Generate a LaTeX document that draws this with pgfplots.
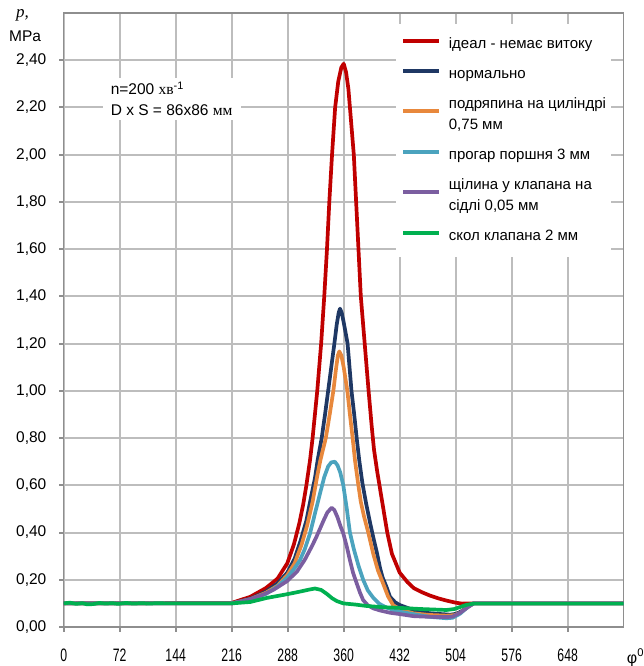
\documentclass[border=0pt]{standalone}
\usepackage{fontspec}
\setmainfont{Liberation Sans}
\newfontfamily\regfont{Liberation Sans}
\newfontfamily\serifcyr{Liberation Serif}
\newfontfamily\narrowfont[FakeStretch=0.68]{Liberation Sans}
\usepackage{pgfplots}
\pgfplotsset{compat=1.18}
\definecolor{cred}{HTML}{C00000}
\definecolor{cnavy}{HTML}{1F3864}
\definecolor{corange}{HTML}{E8883C}
\definecolor{ccyan}{HTML}{4BA3BE}
\definecolor{cpurple}{HTML}{7B5EA0}
\definecolor{cgreen}{HTML}{00B050}
\definecolor{cgrid}{HTML}{BDBDBD}
\definecolor{caxis}{HTML}{8E8E8E}
\newcommand\st{\rule[-6.3bp]{0pt}{21bp}}
\newcommand\lgtab[1]{\begin{tabular}{@{}l@{}}#1\end{tabular}}
\begin{document}
\begin{tikzpicture}
\begin{axis}[
  at={(0,0)}, anchor=south west,
  scale only axis, width=560bp, height=614bp,
  xmin=0, xmax=720, ymin=0, ymax=2.6,
  xtick={0,72,144,216,288,360,432,504,576,648},
  ytick={0,0.2,0.4,0.6,0.8,1.0,1.2,1.4,1.6,1.8,2.0,2.2,2.4},
  grid=major,
  grid style={draw=cgrid, line width=2bp},
  axis line style={draw=caxis, line width=1.5bp},
  tick style={draw=caxis, line width=2bp},
  tick align=outside,
  xtick pos=left, ytick pos=left,
  major tick length=4.5bp,
  yticklabel={\regfont\fontsize{15.5bp}{18bp}\selectfont\pgfmathprintnumber[fixed,fixed zerofill,precision=2,use comma,assume math mode=true]{\tick}},
  xticklabel={\narrowfont\fontsize{18bp}{20bp}\selectfont\pgfmathprintnumber[assume math mode=true]{\tick}},
  yticklabel style={anchor=east, inner sep=0pt, xshift=-12.7bp},
  xticklabel style={anchor=base, inner sep=0pt, yshift=-30bp},
  legend cell align=left,
  legend style={at={(0.5934,0.9821)}, anchor=north west,
    draw=none, fill=white, font=\fontsize{15bp}{21bp}\selectfont,
    row sep=9bp, inner xsep=5bp, inner ysep=10bp, nodes={inner sep=0pt, text depth=},
    /tikz/column sep=8bp},
  legend image code/.code={\draw[#1] (0bp,4bp) -- (36bp,4bp);},
  every axis plot/.append style={line width=3.7bp, line join=round},
]
\addplot[color=cred] coordinates {
(0,0.100)(216,0.102)(240,0.128)(260,0.165)(275,0.205)(287.5,0.27)(296,0.35)(303,0.44)(308,0.52)(312,0.60)(316.7,0.706)(320,0.80)(326,1.00)(331,1.20)(335,1.40)(338.5,1.60)(341.5,1.80)(345,2.00)(349,2.20)(353,2.31)(357,2.37)(360,2.385)(363,2.35)(366,2.28)(368,2.20)(373,2.00)(376,1.80)(379,1.60)(382,1.40)(387,1.20)(392,1.00)(396,0.85)(399,0.75)(403,0.66)(407,0.58)(411,0.50)(416,0.40)(422,0.31)(432,0.23)(442,0.19)(450,0.165)(460,0.148)(471,0.133)(482,0.121)(492,0.112)(504,0.103)(512,0.099)(520,0.10)(720,0.10)};
\addlegendentry{\lgtab{\st ідеал - немає витоку}}
\addplot[color=cnavy] coordinates {
(0,0.10)(216,0.10)(240,0.12)(260,0.15)(275,0.185)(287.5,0.23)(297,0.29)(305,0.37)(312,0.45)(318,0.55)(323,0.63)(326.5,0.706)(331.7,0.80)(336,0.90)(340,1.00)(344,1.10)(348,1.20)(351,1.28)(353.5,1.33)(355.3,1.348)(357.5,1.33)(360,1.29)(365,1.20)(370,1.00)(373.5,0.90)(376.7,0.80)(380,0.706)(384,0.61)(389,0.52)(394,0.44)(398,0.38)(403,0.31)(406.7,0.25)(410,0.21)(415,0.17)(419.5,0.128)(426,0.105)(432,0.093)(449.5,0.072)(471,0.058)(497,0.052)(505,0.056)(512,0.068)(519,0.085)(527,0.10)(720,0.10)};
\addlegendentry{\lgtab{\st нормально}}
\addplot[color=corange] coordinates {
(0,0.10)(216,0.10)(240,0.118)(260,0.145)(275,0.175)(287.5,0.22)(297,0.27)(306,0.35)(313,0.43)(320,0.53)(326,0.64)(330,0.706)(337,0.80)(342,0.90)(346.7,1.00)(350,1.09)(352.5,1.15)(354.4,1.167)(357,1.15)(360,1.10)(364.7,1.00)(368,0.90)(371.5,0.80)(374.5,0.706)(378,0.62)(382,0.53)(386,0.47)(391.6,0.40)(398,0.31)(404,0.24)(410,0.19)(417,0.13)(424,0.09)(435,0.072)(449.5,0.058)(470,0.051)(492,0.048)(502,0.05)(510,0.06)(518,0.082)(527,0.10)(720,0.10)};
\addlegendentry{\lgtab{\st подряпина на циліндрі\\\st 0,75 мм}}
\addplot[color=ccyan] coordinates {
(0,0.10)(216,0.10)(240,0.115)(260,0.14)(275,0.172)(287.5,0.21)(296,0.245)(303.8,0.283)(310,0.33)(316.7,0.396)(323,0.48)(329.5,0.565)(335,0.635)(340,0.68)(344,0.697)(348.5,0.70)(352,0.685)(355.5,0.655)(359.5,0.60)(364,0.50)(368,0.40)(373,0.33)(379,0.26)(385,0.20)(391,0.155)(398,0.124)(406,0.098)(415,0.082)(430,0.066)(454,0.052)(471,0.043)(492,0.037)(500,0.039)(509.5,0.056)(520,0.086)(527,0.10)(720,0.10)};
\addlegendentry{\lgtab{\st прогар поршня 3 мм}}
\addplot[color=cpurple] coordinates {
(0,0.10)(216,0.10)(227,0.108)(240,0.118)(257,0.138)(270,0.158)(287.5,0.195)(300,0.235)(310,0.285)(318,0.335)(324,0.375)(328.7,0.41)(334,0.45)(339,0.485)(344.5,0.505)(348,0.495)(352,0.465)(355.5,0.43)(359.5,0.396)(364,0.34)(368,0.283)(372,0.23)(376.7,0.185)(381,0.145)(385,0.114)(391,0.092)(398,0.079)(406.7,0.07)(420,0.06)(431.5,0.055)(449.5,0.046)(470,0.043)(492,0.042)(500,0.044)(509.5,0.06)(518,0.08)(527,0.10)(720,0.10)};
\addlegendentry{\lgtab{\st щілина у клапана на\\\st сідлі 0,05 мм}}
\addplot[color=cgreen] coordinates {
(0,0.100)(8,0.103)(16,0.098)(24,0.101)(30,0.096)(38,0.097)(46,0.102)(54,0.099)(62,0.101)(70,0.098)(80,0.102)(90,0.099)(100,0.101)(110,0.099)(120,0.101)(130,0.100)(216,0.100)(240,0.106)(261,0.123)(287.5,0.139)(304,0.150)(315,0.158)(323,0.163)(331,0.157)(338,0.141)(345,0.122)(351,0.110)(359.5,0.100)(375,0.095)(389.5,0.089)(410,0.084)(431.5,0.081)(460,0.076)(492,0.072)(502,0.076)(510,0.085)(518,0.094)(527,0.099)(720,0.099)};
\addlegendentry{\lgtab{\st скол клапана 2 мм}}
\node[fill=white, anchor=north west, inner xsep=8bp, inner ysep=4bp, align=left,
  font=\fontsize{15.5bp}{21bp}\selectfont] at (axis cs:50,2.326)
  {n=200 {\serifcyr хв}\textsuperscript{-1}\\D x S = 86x86 {\serifcyr мм}};
\end{axis}
\node[anchor=base west, inner sep=0pt, font=\fontsize{17bp}{17bp}\selectfont\serifcyr\itshape] at (-47.7bp,609bp) {p,};
\node[anchor=base west, inner sep=0pt, font=\fontsize{15.5bp}{17bp}\selectfont] at (-54.7bp,585bp) {MPa};
\node[anchor=base west, inner sep=0pt, font=\fontsize{16bp}{17bp}\selectfont] at (563bp,-36bp) {φ\textsuperscript{0}};
\pgfresetboundingbox
\path[use as bounding box] (-63.7bp,-39bp) rectangle (580.3bp,627bp);
\end{tikzpicture}
\end{document}
